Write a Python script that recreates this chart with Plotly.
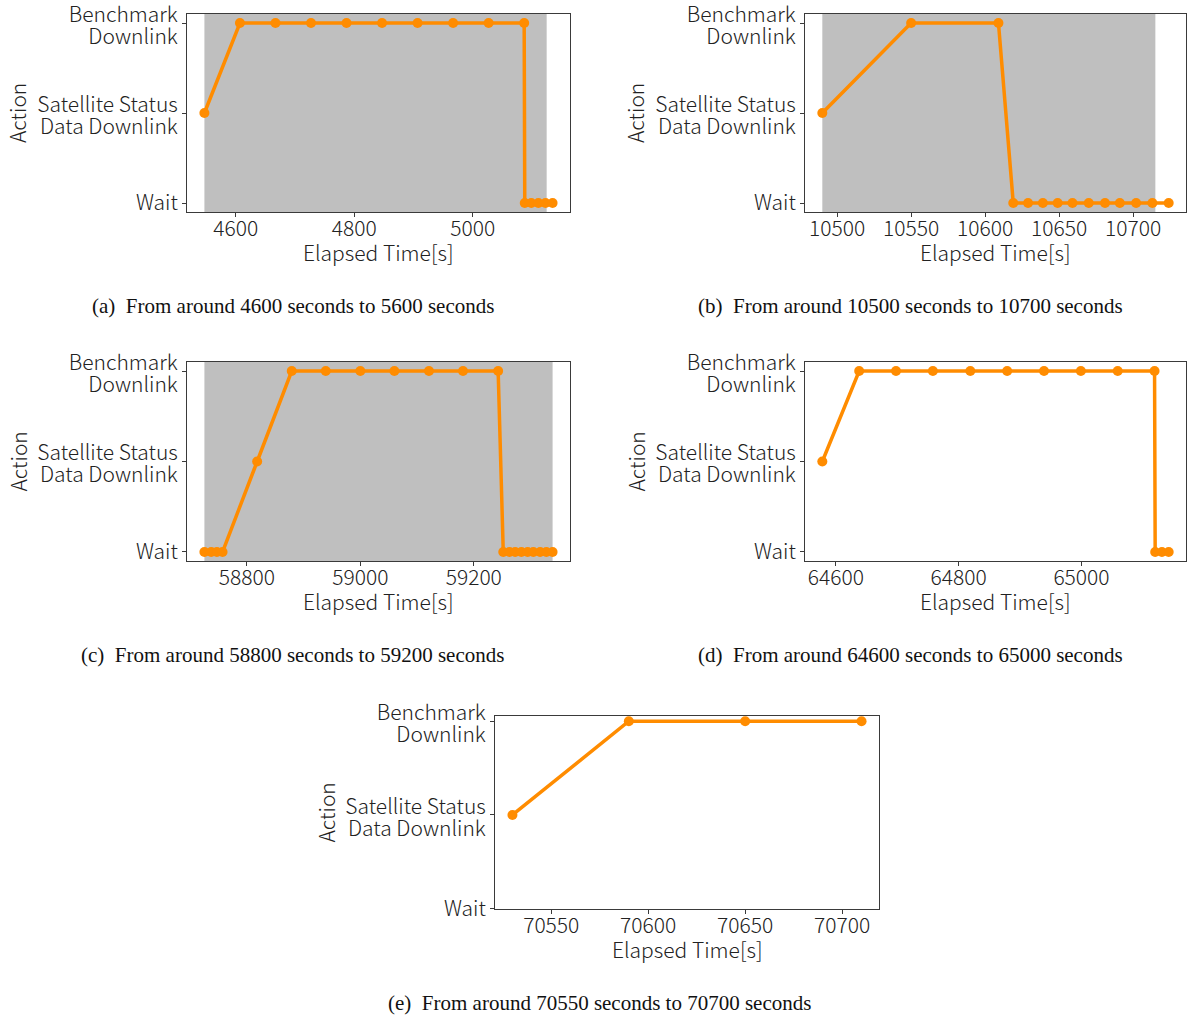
import plotly.graph_objects as go

# ---------------- data ----------------
action_vals = [0, 1, 2]
action_first_lines = ["Wait", "Satellite Status", "Benchmark"]
action_second_lines = ["", "Data Downlink", "Downlink"]

a_time = [4547, 4607, 4667, 4727, 4787, 4847, 4907, 4967, 5027, 5087,
          5088, 5099, 5111, 5123, 5135]
a_action = [1, 2, 2, 2, 2, 2, 2, 2, 2, 2, 0, 0, 0, 0, 0]
a_shade = [4547, 5125]

b_time = [10490, 10550, 10609, 10619, 10629, 10639, 10649, 10659, 10670,
          10681, 10691, 10702, 10713, 10724]
b_action = [1, 2, 2, 0, 0, 0, 0, 0, 0, 0, 0, 0, 0, 0]
b_shade = [10490, 10715]

c_time = [58725, 58737, 58747, 58757, 58818, 58879, 58939, 59000, 59060,
          59121, 59181, 59243, 59252, 59263, 59273, 59284, 59295, 59305,
          59317, 59328, 59339]
c_action = [0, 0, 0, 0, 1, 2, 2, 2, 2, 2, 2, 2, 0, 0, 0, 0, 0, 0, 0, 0, 0]
c_shade = [58725, 59339]

d_time = [64578, 64638, 64698, 64758, 64819, 64879, 64939, 64999, 65059,
          65119, 65120, 65131, 65142]
d_action = [1, 2, 2, 2, 2, 2, 2, 2, 2, 2, 0, 0, 0]
d_shade = None

e_time = [70530, 70590, 70650, 70710]
e_action = [1, 2, 2, 2]
e_shade = None

captions = [
    "(a)  From around 4600 seconds to 5600 seconds",
    "(b)  From around 10500 seconds to 10700 seconds",
    "(c)  From around 58800 seconds to 59200 seconds",
    "(d)  From around 64600 seconds to 65000 seconds",
    "(e)  From around 70550 seconds to 70700 seconds",
]
x_dticks = [200, 50, 200, 200, 50]
x_title = "Elapsed Time[s]"
y_title = "Action"

# ---------------- layout geometry (pixels) ----------------
W, H = 1187, 1017
boxes = [  # x0, x1, ytop, ybottom in px
    (187, 570, 14, 212),
    (805, 1186, 14, 212),
    (187, 570, 362, 561),
    (805, 1186, 362, 561),
    (495, 879, 716, 909),
]
caption_pos = [(293, 306), (910, 306), (292, 655), (910, 655), (600, 1003)]
XTITLE_GAP = 40      # px below box bottom to title centre
YTITLE_GAP = 170     # px left of box to title centre
LINE_HALF = 11       # px half-distance between the two lines of a tick label
LINE_SHIFT = 2.5     # px the two-line labels sit below their tick
LABEL_EXT = 13       # px the label axis extends beyond the plot box

panels = [
    (a_time, a_action, a_shade),
    (b_time, b_action, b_shade),
    (c_time, c_action, c_shade),
    (d_time, d_action, d_shade),
    (e_time, e_action, e_shade),
]

ORANGE = "#ff8c00"
TICKFONT = dict(family="Noto Sans CJK JP, Noto Sans, sans-serif", size=21,
                color="#222222", weight=300)
AXCOLOR = "#3a3a3a"

fig = go.Figure()
shapes = []
annotations = []

for i, ((t, act, shade), (x0, x1, yt, yb)) in enumerate(zip(panels, boxes)):
    n = "" if i == 0 else str(i + 1)
    xa, ya = "x" + n, "y" + n
    ya2 = "y" + str(i + 6)
    fig.add_trace(go.Scatter(
        x=t, y=act, mode="lines+markers", xaxis=xa, yaxis=ya,
        line=dict(color=ORANGE, width=3.5),
        marker=dict(color=ORANGE, size=10),
        showlegend=False, hoverinfo="skip",
    ))
    # empty trace so the label-only axis is drawn
    fig.add_trace(go.Scatter(x=[], y=[], xaxis=xa, yaxis=ya2,
                             showlegend=False, hoverinfo="skip"))
    span = max(t) - min(t)
    xr = [min(t) - 0.05 * span, max(t) + 0.05 * span]
    yr = [-0.003, 2.056] if i == 4 else [-0.1, 2.1]
    px_per_unit = (yb - yt) / (yr[1] - yr[0])
    d = LINE_HALF / px_per_unit
    s = LINE_SHIFT / px_per_unit
    ext = LABEL_EXT / px_per_unit
    yr2 = [yr[0] - ext, yr[1] + ext]

    # two-line tick labels placed line by line on a label axis
    lab_vals, lab_text = [], []
    for v, l1, l2 in zip(action_vals, action_first_lines, action_second_lines):
        if l2:
            lab_vals += [v + d - s, v - d - s]
            lab_text += [l1, l2]
        else:
            lab_vals.append(v)
            lab_text.append(l1)

    fig.layout["xaxis" + n] = dict(
        domain=[x0 / W, x1 / W], anchor=ya, range=xr, automargin=False,
        tick0=0, dtick=x_dticks[i], tickformat="d",
        showgrid=False, zeroline=False,
        showline=True, linecolor=AXCOLOR, linewidth=1, mirror=True,
        ticks="outside", ticklen=4, tickcolor=AXCOLOR,
        tickfont=TICKFONT, ticklabelstandoff=-6, ticklabeloverflow="allow",
    )
    fig.layout["yaxis" + n] = dict(
        domain=[1 - yb / H, 1 - yt / H], anchor=xa, range=yr, automargin=False,
        tickmode="array", tickvals=action_vals, ticktext=["", "", ""],
        showgrid=False, zeroline=False,
        showline=True, linecolor=AXCOLOR, linewidth=1, mirror=True,
        ticks="outside", ticklen=4, tickcolor=AXCOLOR,
        tickfont=TICKFONT, ticklabeloverflow="allow",
    )
    fig.layout["yaxis" + str(i + 6)] = dict(
        domain=[1 - (yb + LABEL_EXT) / H, 1 - (yt - LABEL_EXT) / H],
        anchor=xa, side="left", range=yr2, automargin=False,
        tickmode="array", tickvals=lab_vals, ticktext=lab_text,
        showgrid=False, zeroline=False, showline=False,
        ticks="outside", ticklen=4, tickcolor="rgba(0,0,0,0)",
        tickfont=TICKFONT, ticklabeloverflow="allow",
    )
    if shade is not None:
        shapes.append(dict(
            type="rect", xref=xa, yref=ya + " domain",
            x0=shade[0], x1=shade[1], y0=0, y1=1,
            fillcolor="#bfbfbf", line=dict(width=0), layer="below",
        ))
    # axis titles
    annotations.append(dict(
        text=x_title, xref="paper", yref="paper",
        x=(x0 + x1) / 2 / W, y=1 - (yb + XTITLE_GAP) / H,
        xanchor="center", yanchor="middle", showarrow=False, font=TICKFONT,
    ))
    annotations.append(dict(
        text=y_title, xref="paper", yref="paper", textangle=-90,
        x=(x0 - YTITLE_GAP) / W, y=1 - (yt + yb) / 2 / H,
        xanchor="center", yanchor="middle", showarrow=False, font=TICKFONT,
    ))
    cx, cy = caption_pos[i]
    annotations.append(dict(
        text=captions[i], xref="paper", yref="paper",
        x=cx / W, y=1 - cy / H, xanchor="center", yanchor="middle",
        showarrow=False,
        font=dict(family="Liberation Serif, Times New Roman, serif", size=21, color="#111111"),
    ))

fig.update_layout(
    width=W, height=H,
    margin=dict(l=0, r=0, t=0, b=0),
    paper_bgcolor="white", plot_bgcolor="rgba(0,0,0,0)",
    shapes=shapes, annotations=annotations,
)

fig.write_html(
    "out.html",
    config={"displayModeBar": False},
    post_script="document.body.style.margin='0';document.body.style.overflow='hidden';",
)
